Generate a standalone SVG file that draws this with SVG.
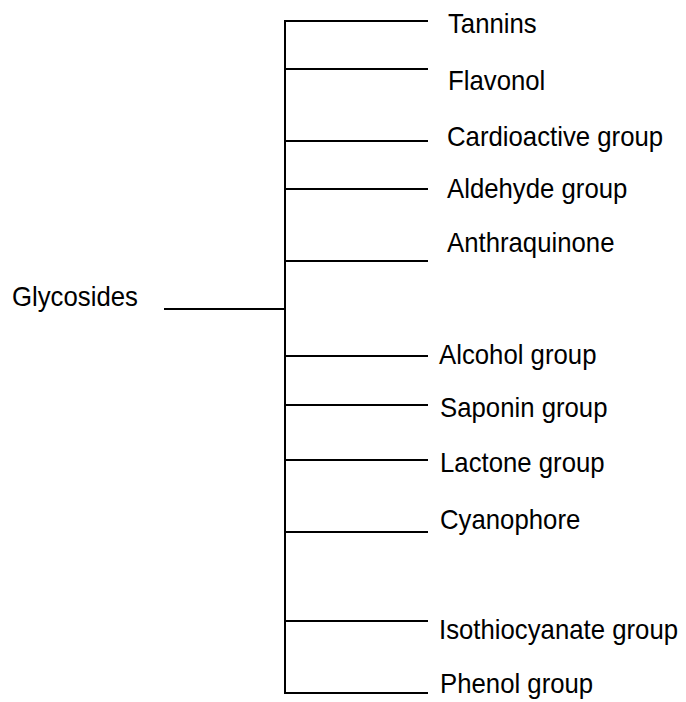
<svg xmlns="http://www.w3.org/2000/svg" width="686" height="702" viewBox="0 0 686 702">
<style>
text{font-family:"Liberation Sans",Arial,sans-serif;font-size:28px;fill:#000}
.c line{stroke:#000;stroke-width:2;fill:none}
</style>
<rect width="686" height="702" fill="#fff"/>
<g class="c" id="connectors">
<line x1="285" y1="20" x2="285" y2="694"/>
<line x1="164" y1="309" x2="285" y2="309"/>
<line x1="284" y1="21" x2="428" y2="21"/>
<line x1="284" y1="69" x2="428" y2="69"/>
<line x1="284" y1="141" x2="428" y2="141"/>
<line x1="284" y1="189" x2="428" y2="189"/>
<line x1="284" y1="261" x2="428" y2="261"/>
<line x1="284" y1="356" x2="428" y2="356"/>
<line x1="284" y1="405" x2="428" y2="405"/>
<line x1="284" y1="460" x2="428" y2="460"/>
<line x1="284" y1="532" x2="428" y2="532"/>
<line x1="284" y1="621" x2="428" y2="621"/>
<line x1="284" y1="693" x2="428" y2="693"/>
</g>
<g id="glycosides"><text transform="translate(12,306) scale(0.92,1)">Glycosides</text></g>
<g id="tannins"><text transform="translate(448,33) scale(0.92,1)">Tannins</text></g>
<g id="flavonol"><text transform="translate(448,90) scale(0.92,1)">Flavonol</text></g>
<g id="cardioactive"><text transform="translate(447,146) scale(0.92,1)">Cardioactive group</text></g>
<g id="aldehyde"><text transform="translate(447,198) scale(0.92,1)">Aldehyde group</text></g>
<g id="anthraquinone"><text transform="translate(447,252) scale(0.92,1)">Anthraquinone</text></g>
<g id="alcohol"><text transform="translate(439,364) scale(0.92,1)">Alcohol group</text></g>
<g id="saponin"><text transform="translate(440,417) scale(0.92,1)">Saponin group</text></g>
<g id="lactone"><text transform="translate(440,472) scale(0.92,1)">Lactone group</text></g>
<g id="cyanophore"><text transform="translate(440,529) scale(0.92,1)">Cyanophore</text></g>
<g id="isothiocyanate"><text transform="translate(439,639) scale(0.92,1)">Isothiocyanate group</text></g>
<g id="phenol"><text transform="translate(440,693) scale(0.92,1)">Phenol group</text></g>
</svg>
